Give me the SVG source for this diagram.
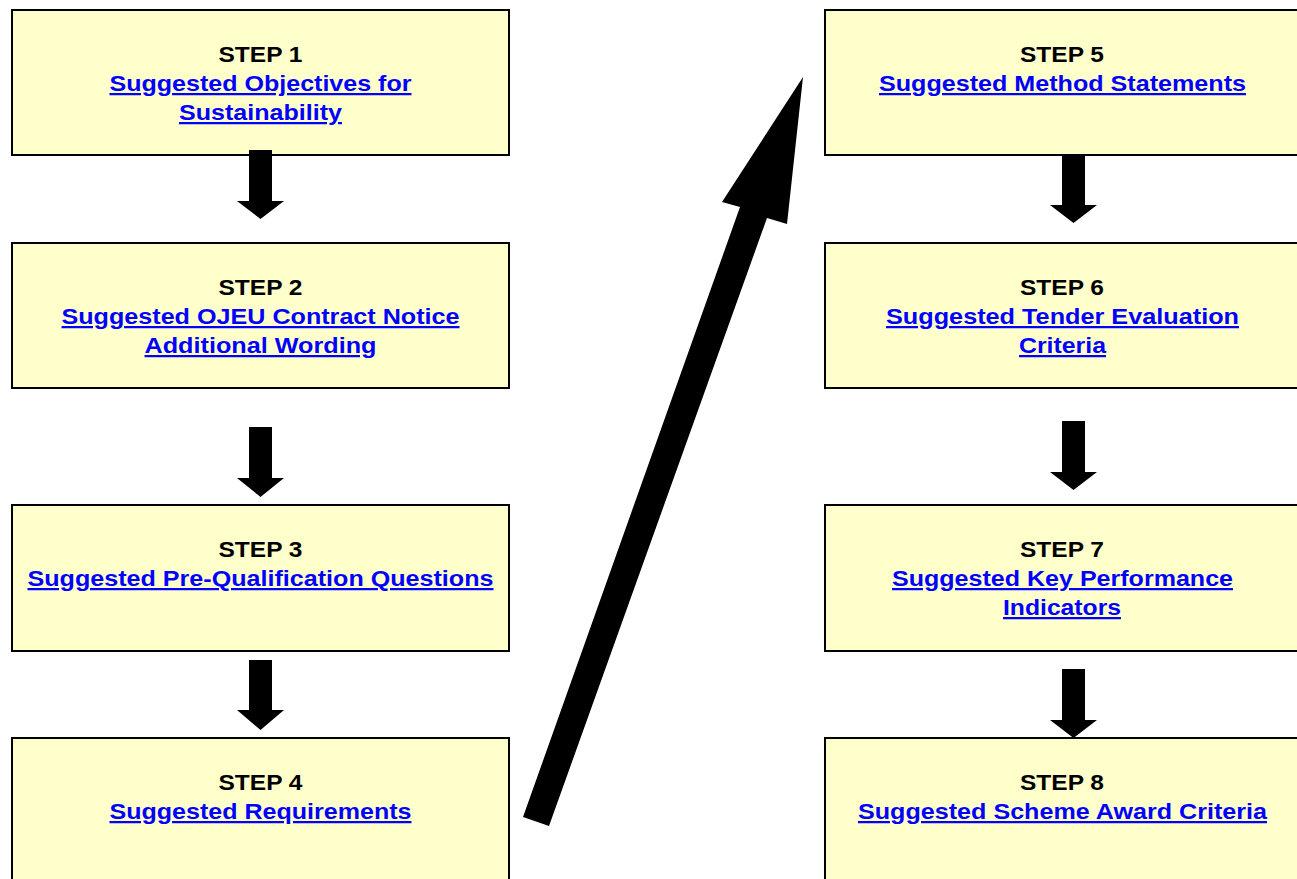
<svg xmlns="http://www.w3.org/2000/svg" width="1297" height="879" viewBox="0 0 1297 879">
<style>
.box{fill:#FFFFCC;stroke:#000;stroke-width:2}
.step{font-family:"Liberation Sans",Arial,sans-serif;font-weight:bold;font-size:22.5px;fill:#000;text-anchor:middle}
.link{font-family:"Liberation Sans",Arial,sans-serif;font-weight:bold;font-size:22.5px;fill:#0000FF;text-anchor:middle;text-decoration:underline}
.arr{fill:#000}
</style>
<rect width="1297" height="879" fill="#fff"/>
<g id="step1">
<rect class="box" x="12" y="10" width="497" height="145"/>
<text class="step" x="260.5" y="62" textLength="84" lengthAdjust="spacingAndGlyphs">STEP 1</text>
<text class="link" x="260.5" y="91" textLength="302" lengthAdjust="spacingAndGlyphs">Suggested Objectives for</text>
<text class="link" x="260.5" y="120" textLength="163" lengthAdjust="spacingAndGlyphs">Sustainability</text>
</g>
<g id="step2">
<rect class="box" x="12" y="243" width="497" height="145"/>
<text class="step" x="260.5" y="295" textLength="84" lengthAdjust="spacingAndGlyphs">STEP 2</text>
<text class="link" x="260.5" y="324" textLength="398" lengthAdjust="spacingAndGlyphs">Suggested OJEU Contract Notice</text>
<text class="link" x="260.5" y="353" textLength="232" lengthAdjust="spacingAndGlyphs">Additional Wording</text>
</g>
<g id="step3">
<rect class="box" x="12" y="505" width="497" height="146"/>
<text class="step" x="260.5" y="557" textLength="84" lengthAdjust="spacingAndGlyphs">STEP 3</text>
<text class="link" x="260.5" y="586" textLength="466" lengthAdjust="spacingAndGlyphs">Suggested Pre-Qualification Questions</text>
</g>
<g id="step4">
<rect class="box" x="12" y="738" width="497" height="150"/>
<text class="step" x="260.5" y="790" textLength="84" lengthAdjust="spacingAndGlyphs">STEP 4</text>
<text class="link" x="260.5" y="819" textLength="302" lengthAdjust="spacingAndGlyphs">Suggested Requirements</text>
</g>
<g id="step5">
<rect class="box" x="825" y="10" width="480" height="145"/>
<text class="step" x="1062" y="62" textLength="84" lengthAdjust="spacingAndGlyphs">STEP 5</text>
<text class="link" x="1062.5" y="91" textLength="367" lengthAdjust="spacingAndGlyphs">Suggested Method Statements</text>
</g>
<g id="step6">
<rect class="box" x="825" y="243" width="480" height="145"/>
<text class="step" x="1062" y="295" textLength="84" lengthAdjust="spacingAndGlyphs">STEP 6</text>
<text class="link" x="1062.5" y="324" textLength="353" lengthAdjust="spacingAndGlyphs">Suggested Tender Evaluation</text>
<text class="link" x="1062.5" y="353" textLength="87" lengthAdjust="spacingAndGlyphs">Criteria</text>
</g>
<g id="step7">
<rect class="box" x="825" y="505" width="480" height="146"/>
<text class="step" x="1062" y="557" textLength="84" lengthAdjust="spacingAndGlyphs">STEP 7</text>
<text class="link" x="1062.5" y="586" textLength="341" lengthAdjust="spacingAndGlyphs">Suggested Key Performance</text>
<text class="link" x="1062" y="615" textLength="118" lengthAdjust="spacingAndGlyphs">Indicators</text>
</g>
<g id="step8">
<rect class="box" x="825" y="738" width="480" height="150"/>
<text class="step" x="1062" y="790" textLength="84" lengthAdjust="spacingAndGlyphs">STEP 8</text>
<text class="link" x="1062.5" y="819" textLength="409" lengthAdjust="spacingAndGlyphs">Suggested Scheme Award Criteria</text>
</g>
<g id="connectors">
<polygon class="arr" points="249,150 272,150 272,201 284,201 260.5,219 237,201 249,201"/>
<polygon class="arr" points="249,427 272,427 272,478 284,478 260.5,497 237,478 249,478"/>
<polygon class="arr" points="249,660 272,660 272,710 284,710 260.5,730 237,710 249,710"/>
<polygon class="arr" points="1062,155 1085,155 1085,205 1097,205 1073.5,223 1050,205 1062,205"/>
<polygon class="arr" points="1062,421 1085,421 1085,472 1097,472 1073.5,490 1050,472 1062,472"/>
<polygon class="arr" points="1062,669 1085,669 1085,720 1097,720 1073.5,738 1050,720 1062,720"/>
<polygon class="arr" points="803,77 787,224 767,218 549,826 523,817 740,207 722,202"/>
</g>
</svg>
